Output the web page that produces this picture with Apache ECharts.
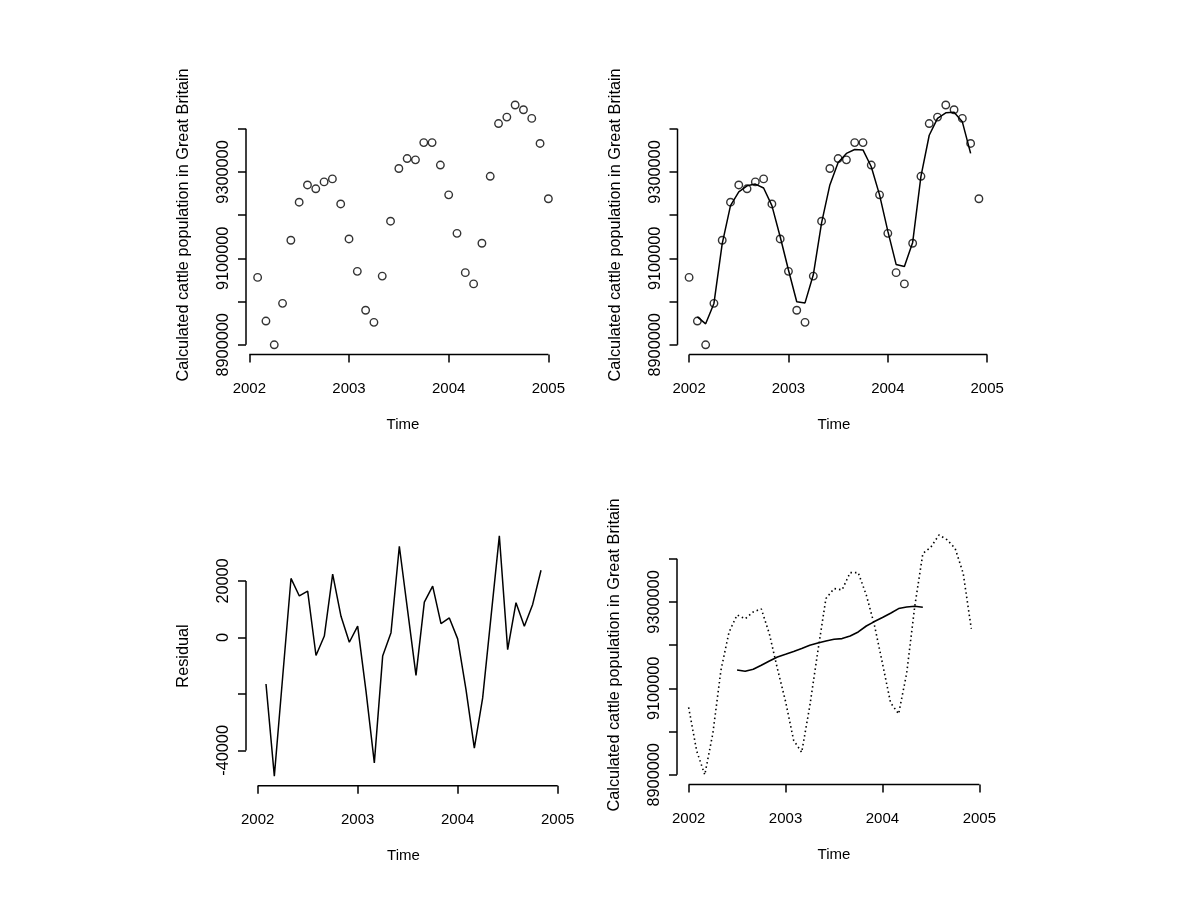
<!DOCTYPE html>
<html><head><meta charset="utf-8">
<script src="https://cdn.jsdelivr.net/npm/echarts@6/dist/echarts.min.js"></script>
<style>html,body{margin:0;padding:0;background:#fff}#c{width:1200px;height:900px}</style>
</head><body><div id="c"></div>
<script>
// ---- data (monthly series, frequency 12) ----
const freq = 12;
const startMain = 2002;            // cattle series start (panels 2 and 4)
const startShift = 2002 + 1 / 12;  // panel 1 is drawn starting one month later
const cattle = [9056000, 8955000, 8900000, 8996000, 9142000, 9230000, 9270000, 9261000, 9277000, 9284000,
  9226000, 9145000, 9070000, 8980000, 8952000, 9059000, 9186000, 9308000, 9331000, 9328000,
  9368000, 9368000, 9316000, 9247000, 9158000, 9067000, 9041000, 9135000, 9290000, 9412000,
  9427000, 9455000, 9444000, 9424000, 9366000, 9238000];
const fittedOffset = 1;  // fitted values start at month index 1
const fitted = [8964800, 8948600, 8995800, 9134000, 9222000, 9254000, 9268000, 9272000, 9263000, 9222000,
  9150000, 9073000, 8999500, 8997000, 9062000, 9182000, 9270000, 9322000, 9343000, 9352000,
  9351000, 9312000, 9247000, 9163000, 9086000, 9081000, 9137000, 9290000, 9385000, 9424000,
  9437000, 9438000, 9416000, 9343000];
const residOffset = 1;   // residuals start at month index 1 (series has NA at both ends)
const residual = [-16500, -49100, -14000, 20900, 14700, 16400, -6400, 500, 22400, 7500,
  -1700, 4000, -19000, -44400, -6600, 1700, 32300, 9400, -13400, 12500,
  18200, 4900, 6900, -500, -18500, -39200, -21400, 7300, 36000, -4300,
  12300, 4000, 11700, 23800];
const trendOffset = 6;   // centred 12-month moving average starts at month index 6
const trend = [9142600, 9139600, 9144200, 9153500, 9163500, 9172700, 9178900, 9185200, 9192100, 9199800,
  9205100, 9209700, 9213600, 9215200, 9221300, 9230600, 9244400, 9254600, 9263900, 9273800,
  9284700, 9288400, 9290000, 9287700];
const xTicks = [2002, 2003, 2004, 2005];
const xLabels = [2002, 2003, 2004, 2005];
const yTicksPop = [8900000, 9000000, 9100000, 9200000, 9300000, 9400000];
const yLabelsPop = [8900000, 9100000, 9300000];
const yTicksRes = [-40000, -20000, 0, 20000];
const yLabelsRes = [-40000, 0, 20000];
const xTitle = 'Time';
const yTitlePop = 'Calculated cattle population in Great Britain';
const yTitleRes = 'Residual';

// ---- helpers ----
const toPts = (arr, start, offset) => arr.map((v, i) => [start + (i + offset) / freq, v]);
const padRange = (lo, hi) => { const d = (hi - lo) * 0.04; return [lo - d, hi + d]; };
const FONT = "'Liberation Sans', Arial, Helvetica, sans-serif";

const popRange = padRange(Math.min(...cattle), Math.max(...cattle));
const resRange = padRange(Math.min(...residual), Math.max(...residual));
const x1Range = padRange(startShift, startShift + (cattle.length - 1) / freq);
const x2Range = padRange(startMain, startMain + (cattle.length - 1) / freq);
const x4Range = padRange(2002, 2005);

const panels = [
  { grid: { left: 246, top: 95.4, width: 314, height: 259 }, x: x1Range, y: popRange, yTicks: yTicksPop, yLabels: yLabelsPop, yTitle: yTitlePop },
  { grid: { left: 677.5, top: 95.4, width: 313, height: 259 }, x: x2Range, y: popRange, yTicks: yTicksPop, yLabels: yLabelsPop, yTitle: yTitlePop },
  { grid: { left: 246, top: 526.2, width: 315, height: 259.5 }, x: x2Range, y: resRange, yTicks: yTicksRes, yLabels: yLabelsRes, yTitle: yTitleRes },
  { grid: { left: 677, top: 525.4, width: 314, height: 259 }, x: x4Range, y: popRange, yTicks: yTicksPop, yLabels: yLabelsPop, yTitle: yTitlePop }
];

const tickStyle = { color: '#000', width: 1.5 };
const txtX = { color: '#000', fontSize: 15, fontFamily: FONT };
const txtY = { color: '#000', fontSize: 16.3, fontFamily: FONT };

const option = {
  animation: false,
  backgroundColor: '#fff',
  grid: panels.map(p => Object.assign({ containLabel: false, outerBoundsMode: 'none' }, p.grid)),
  xAxis: panels.map((p, i) => ({
    type: 'value', gridIndex: i, min: p.x[0], max: p.x[1],
    axisLine: { show: false, onZero: false },
    splitLine: { show: false },
    axisTick: { show: true, customValues: xTicks, length: 8, inside: false, lineStyle: tickStyle },
    axisLabel: Object.assign({ customValues: xLabels, margin: 27, formatter: v => String(v) }, txtX),
    name: xTitle, nameLocation: 'middle', nameGap: 63, nameTextStyle: txtX
  })),
  yAxis: panels.map((p, i) => ({
    type: 'value', gridIndex: i, min: p.y[0], max: p.y[1],
    axisLine: { show: false, onZero: false },
    splitLine: { show: false },
    axisTick: { show: true, customValues: p.yTicks, length: 8, inside: false, lineStyle: tickStyle },
    axisLabel: Object.assign({ customValues: p.yLabels, margin: 14, rotate: 90, formatter: v => String(v) }, txtY),
    name: p.yTitle, nameLocation: 'middle', nameRotate: 90, nameGap: 54, nameTextStyle: txtY
  })),
  series: [
    { type: 'scatter', xAxisIndex: 0, yAxisIndex: 0, data: toPts(cattle, startShift, 0),
      symbol: 'circle', symbolSize: 7.5, itemStyle: { color: 'rgba(0,0,0,0)', borderColor: '#000', borderWidth: 1.4 } },
    { type: 'scatter', xAxisIndex: 1, yAxisIndex: 1, data: toPts(cattle, startMain, 0),
      symbol: 'circle', symbolSize: 7.5, itemStyle: { color: 'rgba(0,0,0,0)', borderColor: '#000', borderWidth: 1.4 } },
    { type: 'line', xAxisIndex: 1, yAxisIndex: 1, data: toPts(fitted, startMain, fittedOffset),
      showSymbol: false, symbol: 'none', lineStyle: { color: '#000', width: 1.5 } },
    { type: 'line', xAxisIndex: 2, yAxisIndex: 2, data: toPts(residual, startMain, residOffset),
      showSymbol: false, symbol: 'none', lineStyle: { color: '#000', width: 1.5 } },
    { type: 'line', xAxisIndex: 3, yAxisIndex: 3, data: toPts(cattle, startMain, 0),
      showSymbol: false, symbol: 'none', lineStyle: { color: '#000', width: 1.6, type: [1.5, 3] } },
    { type: 'line', xAxisIndex: 3, yAxisIndex: 3, data: toPts(trend, startMain, trendOffset),
      showSymbol: false, symbol: 'none', lineStyle: { color: '#000', width: 1.6 } }
  ]
};

const chart = echarts.init(document.getElementById('c'), null, { renderer: 'canvas' });
chart.setOption(option);

// R-style axis lines spanning only from the first to the last tick
const lines = [];
panels.forEach((p, i) => {
  const a = chart.convertToPixel({ gridIndex: i }, [xTicks[0], p.y[0]]);
  const b = chart.convertToPixel({ gridIndex: i }, [xTicks[xTicks.length - 1], p.y[0]]);
  const c = chart.convertToPixel({ gridIndex: i }, [p.x[0], p.yTicks[0]]);
  const d = chart.convertToPixel({ gridIndex: i }, [p.x[0], p.yTicks[p.yTicks.length - 1]]);
  lines.push({ type: 'line', shape: { x1: a[0], y1: a[1], x2: b[0], y2: b[1] }, style: { stroke: '#000', lineWidth: 1.5 } });
  lines.push({ type: 'line', shape: { x1: c[0], y1: c[1], x2: d[0], y2: d[1] }, style: { stroke: '#000', lineWidth: 1.5 } });
});
chart.setOption({ graphic: lines });
</script></body></html>
